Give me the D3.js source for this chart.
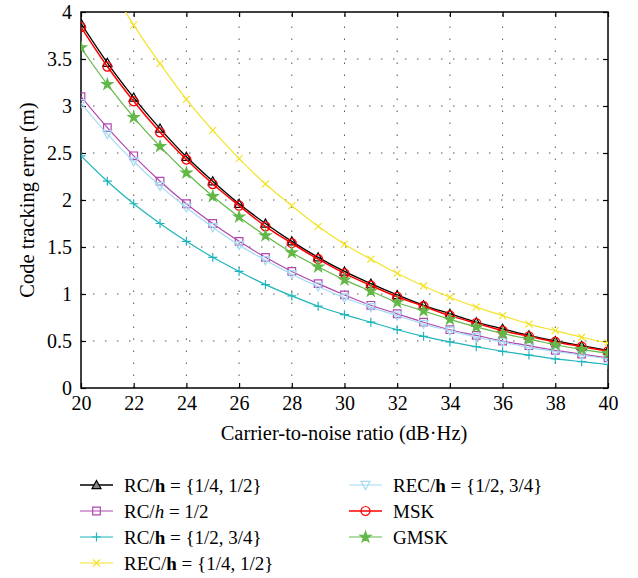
<!DOCTYPE html>
<meta charset="utf-8">
<style>
body{ margin:0; background:#fff; }
svg text{ font-family: "Liberation Serif", "Times New Roman", "DejaVu Serif", serif; }
.grid line{ stroke:#555; stroke-width:1; stroke-dasharray:1.5,10.5; }
</style>
<body>
<svg id="chart" width="638" height="578"></svg>
<script src="https://cdn.jsdelivr.net/npm/d3@7/dist/d3.min.js"></script>
<script>

var cn0 = d3.range(20, 41)

var rcQuarterHalf = [3.88, 3.46, 3.09, 2.76, 2.46, 2.20, 1.96, 1.75, 1.56, 1.39, 1.24, 1.11, 0.99, 0.88, 0.79, 0.70, 0.63, 0.56, 0.50, 0.45, 0.40]
var rcHalf        = [3.10, 2.77, 2.47, 2.20, 1.96, 1.75, 1.56, 1.39, 1.24, 1.11, 0.99, 0.88, 0.79, 0.70, 0.62, 0.56, 0.50, 0.45, 0.40, 0.36, 0.32]
var rcHalfThree   = [2.47, 2.20, 1.96, 1.75, 1.56, 1.39, 1.24, 1.10, 0.98, 0.87, 0.78, 0.70, 0.62, 0.55, 0.49, 0.44, 0.39, 0.35, 0.31, 0.28, 0.25]
var recQuarterHalf= [4.86, 4.33, 3.86, 3.45, 3.07, 2.74, 2.44, 2.17, 1.94, 1.72, 1.53, 1.37, 1.22, 1.085, 0.965, 0.86, 0.77, 0.68, 0.61, 0.54, 0.48]
var recHalfThree  = [3.03, 2.70, 2.41, 2.15, 1.92, 1.71, 1.52, 1.36, 1.21, 1.08, 0.96, 0.86, 0.77, 0.68, 0.61, 0.54, 0.49, 0.43, 0.39, 0.35, 0.31]
var msk           = [3.84, 3.42, 3.05, 2.72, 2.43, 2.17, 1.94, 1.72, 1.54, 1.37, 1.22, 1.09, 0.97, 0.87, 0.77, 0.69, 0.61, 0.55, 0.49, 0.44, 0.39]
var gmsk          = [3.62, 3.23, 2.88, 2.57, 2.29, 2.04, 1.82, 1.62, 1.44, 1.29, 1.15, 1.03, 0.91, 0.82, 0.73, 0.65, 0.58, 0.52, 0.46, 0.41, 0.37]

var xTicks = d3.range(20, 41, 2)
var yTicks = [0, 0.5, 1, 1.5, 2, 2.5, 3, 3.5, 4]

var series = [
  {label: ['RC/', 'h', ' = {1/4, 1/2}'], hStyle: 'bold',   values: rcQuarterHalf,  color: '#000000', marker: 'triangle', width: 1.3},
  {label: ['RC/', 'h', ' = 1/2'],        hStyle: 'italic', values: rcHalf,         color: '#b046b0', marker: 'square',   width: 1.2},
  {label: ['RC/', 'h', ' = {1/2, 3/4}'], hStyle: 'bold',   values: rcHalfThree,    color: '#1fb5bb', marker: 'plus',     width: 1.2},
  {label: ['REC/', 'h', ' = {1/4, 1/2}'],hStyle: 'bold',   values: recQuarterHalf, color: '#f2e32a', marker: 'cross',    width: 1.2},
  {label: ['REC/', 'h', ' = {1/2, 3/4}'],hStyle: 'bold',   values: recHalfThree,   color: '#a6daf2', marker: 'down',     width: 1.2},
  {label: ['MSK'],                       hStyle: null,     values: msk,            color: '#ff0000', marker: 'circle',   width: 1.5},
  {label: ['GMSK'],                      hStyle: null,     values: gmsk,           color: '#62b848', marker: 'star',     width: 1.2}
]

var svg = d3.select('#chart')
var x = d3.scaleLinear().domain([20, 40]).range([81, 608])
var y = d3.scaleLinear().domain([0, 4]).range([388, 12])

svg.append('defs').append('clipPath').attr('id', 'clip')
  .append('rect').attr('x', 81).attr('y', 12).attr('width', 527).attr('height', 376)

// grid
var grid = svg.append('g').attr('class', 'grid')
grid.selectAll('.vx').data(xTicks.slice(1, -1)).enter().append('line')
    .attr('x1', d => x(d)).attr('x2', d => x(d)).attr('y1', y(0)).attr('y2', y(4))
grid.selectAll('.hy').data(yTicks.slice(1, -1)).enter().append('line')
    .attr('x1', x(20)).attr('x2', x(40)).attr('y1', d => y(d)).attr('y2', d => y(d))

// axes
function styleAxis(g){
  g.attr('font-family', null).attr('font-size', null)
  g.select('.domain').remove()
  g.selectAll('.tick line').attr('stroke', '#000').attr('stroke-width', 1.2)
  g.selectAll('.tick text').attr('fill', '#000').style('font-size', '20px')
}
svg.append('g').attr('transform', 'translate(0,388)')
  .call(d3.axisBottom(x).tickValues(xTicks).tickSizeInner(-5).tickSizeOuter(0).tickPadding(8))
  .call(styleAxis)
svg.append('g').attr('transform', 'translate(0,12)')
  .call(d3.axisTop(x).tickValues(xTicks).tickSizeInner(-5).tickSizeOuter(0).tickFormat(''))
  .call(styleAxis)
svg.append('g').attr('transform', 'translate(81,0)')
  .call(d3.axisLeft(y).tickValues(yTicks).tickSizeInner(-5).tickSizeOuter(0).tickPadding(9).tickFormat(d3.format('')))
  .call(styleAxis)
svg.append('g').attr('transform', 'translate(608,0)')
  .call(d3.axisRight(y).tickValues(yTicks).tickSizeInner(-5).tickSizeOuter(0).tickFormat(''))
  .call(styleAxis)
svg.append('rect').attr('x', 81).attr('y', 12).attr('width', 527).attr('height', 376)
  .attr('fill', 'none').attr('stroke', '#000').attr('stroke-width', 1.5)

// markers
function markerPath(type){
  var s = 4.5
  switch(type){
    case 'triangle': return 'M0,' + (-s) + 'L' + s + ',' + (s*0.8) + 'L' + (-s) + ',' + (s*0.8) + 'Z'
    case 'down': return 'M0,' + s + 'L' + s + ',' + (-s*0.8) + 'L' + (-s) + ',' + (-s*0.8) + 'Z'
    case 'square': return 'M-3.8,-3.8H3.8V3.8H-3.8Z'
    case 'plus': return 'M-4.5,0H4.5M0,-4.5V4.5'
    case 'cross': return 'M-3.5,-3.5L3.5,3.5M-3.5,3.5L3.5,-3.5'
    case 'circle': return d3.symbol(d3.symbolCircle, 64)()
    case 'star': return d3.symbol(d3.symbolStar, 36)()
  }
}

var line = d3.line().x((d, i) => x(cn0[i])).y(d => y(d)).curve(d3.curveMonotoneX)
var plot = svg.append('g').attr('clip-path', 'url(#clip)')

series.forEach(function(s){
  var g = plot.append('g')
  g.append('path').attr('d', line(s.values)).attr('fill', 'none')
    .attr('stroke', s.color).attr('stroke-width', s.width)
  g.selectAll('path.m').data(s.values).enter().append('path').attr('class', 'm')
    .attr('transform', (d, i) => 'translate(' + x(cn0[i]) + ',' + y(d) + ')')
    .attr('d', markerPath(s.marker))
    .attr('fill', s.marker == 'star' ? s.color : 'none')
    .attr('stroke', s.color).attr('stroke-width', 1.2)
})

// axis titles
svg.append('text').attr('x', 344).attr('y', 440).attr('text-anchor', 'middle')
  .style('font-size', '20.5px').text('Carrier-to-noise ratio (dB·Hz)')
svg.append('text').attr('transform', 'translate(34,200) rotate(-90)').attr('text-anchor', 'middle')
  .style('font-size', '20.5px').text('Code tracking error (m)')

// legend
var legendPos = [[80, 485], [80, 511], [80, 537], [80, 563], [349, 485], [349, 511], [349, 537]]
series.forEach(function(s, i){
  var p = legendPos[i]
  var g = svg.append('g').attr('transform', 'translate(' + p[0] + ',' + p[1] + ')')
  g.append('line').attr('x1', 0).attr('x2', 33).attr('stroke', s.color).attr('stroke-width', s.width)
  g.append('path').attr('transform', 'translate(16.5,0)').attr('d', markerPath(s.marker))
    .attr('fill', s.marker == 'star' ? s.color : (s.marker == 'triangle' ? '#888' : 'none'))
    .attr('stroke', s.color).attr('stroke-width', 1.2)
  var t = g.append('text').attr('x', 44).attr('y', 6.5).style('font-size', '19px')
  s.label.forEach(function(part, j){
    var ts = t.append('tspan').text(part)
    if(j == 1){
      if(s.hStyle == 'bold') ts.attr('font-weight', 'bold')
      else ts.attr('font-style', 'italic')
    }
  })
})

</script>
</body>
